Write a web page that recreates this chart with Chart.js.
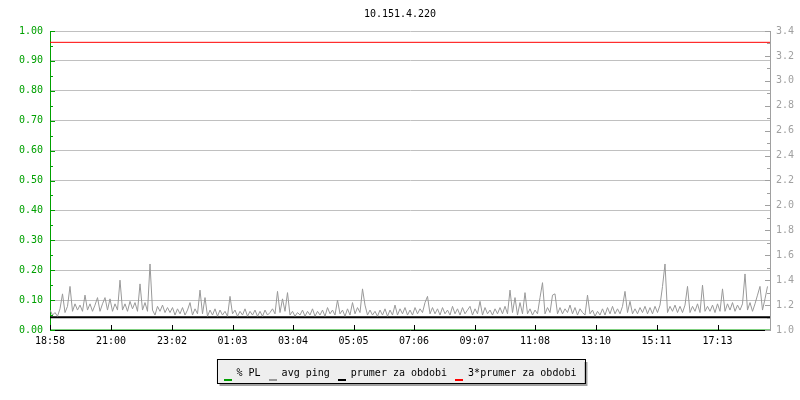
<!DOCTYPE html>
<html><head><meta charset="utf-8">
<script src="https://cdn.jsdelivr.net/npm/chart.js@4/dist/chart.umd.min.js"></script>
<style>html,body{margin:0;padding:0;background:#fff}#wrap{width:800px;height:400px}</style>
</head><body><div id="wrap"><canvas id="c" width="800" height="400"></canvas></div>
<script>
const chartTitle = '10.151.4.220';
const seriesNames = ['% PL', 'avg ping', 'prumer za obdobi', '3*prumer za obdobi'];
const tickLabels = ['18:58','21:00','23:02','01:03','03:04','05:05','07:06','09:07','11:08','13:10','15:11','17:13'];
const periodMinutes = 1440;
const sampleMinutes = 5;
// avg ping, one value per 5 minutes (right axis)
const avgPing = [
1.16,1.12,1.14,1.11,1.17,1.29,1.14,1.19,1.35,1.15,1.21,1.16,
1.20,1.15,1.28,1.16,1.21,1.15,1.20,1.26,1.15,1.21,1.26,1.16,
1.25,1.15,1.21,1.16,1.40,1.16,1.21,1.15,1.23,1.17,1.22,1.15,
1.37,1.16,1.22,1.15,1.53,1.16,1.12,1.19,1.15,1.20,1.14,1.18,
1.14,1.18,1.12,1.17,1.13,1.18,1.12,1.16,1.22,1.12,1.17,1.13,
1.32,1.13,1.26,1.11,1.16,1.12,1.17,1.11,1.16,1.12,1.15,1.11,
1.27,1.13,1.16,1.11,1.15,1.12,1.17,1.11,1.15,1.12,1.16,1.11,
1.15,1.11,1.16,1.12,1.14,1.17,1.13,1.31,1.14,1.25,1.15,1.30,
1.12,1.15,1.11,1.14,1.12,1.16,1.11,1.15,1.12,1.17,1.11,1.15,
1.12,1.16,1.11,1.18,1.13,1.16,1.12,1.24,1.13,1.16,1.11,1.17,
1.12,1.22,1.13,1.18,1.14,1.33,1.20,1.12,1.16,1.12,1.15,1.11,
1.16,1.12,1.17,1.11,1.16,1.12,1.20,1.12,1.17,1.13,1.18,1.12,
1.16,1.12,1.18,1.13,1.17,1.14,1.22,1.27,1.13,1.18,1.13,1.17,
1.12,1.18,1.13,1.16,1.12,1.19,1.13,1.17,1.12,1.18,1.13,1.16,
1.19,1.12,1.17,1.13,1.23,1.12,1.18,1.13,1.16,1.12,1.17,1.13,
1.18,1.13,1.19,1.13,1.32,1.14,1.26,1.12,1.22,1.13,1.30,1.13,
1.17,1.12,1.16,1.13,1.26,1.38,1.13,1.18,1.14,1.28,1.29,1.13,
1.18,1.13,1.17,1.14,1.20,1.13,1.18,1.12,1.17,1.14,1.12,1.28,
1.13,1.16,1.11,1.15,1.12,1.17,1.12,1.18,1.13,1.19,1.13,1.17,
1.13,1.19,1.31,1.14,1.23,1.13,1.17,1.13,1.18,1.14,1.19,1.13,
1.18,1.13,1.19,1.14,1.20,1.35,1.53,1.14,1.19,1.15,1.20,1.14,
1.19,1.14,1.20,1.35,1.14,1.19,1.15,1.21,1.14,1.36,1.15,1.19,
1.15,1.20,1.14,1.21,1.15,1.33,1.15,1.21,1.16,1.22,1.15,1.20,
1.16,1.21,1.45,1.16,1.22,1.15,1.21,1.28,1.35,1.16,1.25,1.35
];
// % PL at the start and end of the period (left axis)
const packetLoss = [0, 0];
// period averages (right axis), at start and end of the period
const prumer = [1.103, 1.103];
const prumer3 = [3.309, 3.309];
const periodEdges = [0, periodMinutes];

const toMin = s => { const [h, m] = s.split(':').map(Number); return h * 60 + m; };
const tickMinutes = tickLabels.map(l => { let d = toMin(l) - toMin(tickLabels[0]); if (d < 0) d += 1440; return d; });

const GREEN = '#00a000', GRAYTXT = '#a0a0a0';
Chart.defaults.font.family = "'DejaVu Sans Mono', 'Liberation Mono', monospace";
Chart.defaults.font.size = 10;

const legendBoxPlugin = {
  id: 'legendBox',
  beforeDraw(chart) {
    const hb = chart.legend && chart.legend.legendHitBoxes;
    if (!hb || !hb.length) return;
    const ctx = chart.ctx;
    const left = Math.min(...hb.map(h => h.left)) - 7;
    const right = Math.max(...hb.map(h => h.left + h.width)) + 8;
    const top = hb[0].top - 9, bottom = hb[0].top + hb[0].height + 5;
    ctx.save();
    ctx.fillStyle = '#a0a0a0';
    ctx.fillRect(left + 3, top + 3, right - left, bottom - top);
    ctx.fillStyle = '#eeeeee';
    ctx.fillRect(left, top, right - left, bottom - top);
    ctx.strokeStyle = '#000';
    ctx.lineWidth = 1;
    ctx.strokeRect(Math.round(left) + 0.5, Math.round(top) + 0.5, Math.round(right - left), Math.round(bottom - top));
    ctx.restore();
  },
  afterDraw(chart) {
    const hb = chart.legend && chart.legend.legendHitBoxes;
    if (!hb) return;
    const ctx = chart.ctx;
    ctx.save();
    hb.forEach((h, i) => {
      ctx.fillStyle = chart.data.datasets[i].borderColor;
      ctx.fillRect(Math.round(h.left), Math.round(h.top) + 11, 8, 2);
    });
    ctx.restore();
  }
};

const innerTicksPlugin = {
  id: 'innerTicks',
  afterDraw(chart) {
    const ctx = chart.ctx, a = chart.chartArea;
    const ys = chart.scales.y, y2 = chart.scales.y2, xs = chart.scales.x;
    ctx.save();
    ctx.lineWidth = 1;
    ctx.strokeStyle = GREEN;
    ys.ticks.forEach(t => {
      const p = Math.round(ys.getPixelForValue(t.value)) + 0.5;
      const major = Math.round(t.value * 100) % 10 === 0;
      ctx.beginPath(); ctx.moveTo(a.left, p); ctx.lineTo(a.left + (major ? 5 : 3), p); ctx.stroke();
    });
    ctx.strokeStyle = GRAYTXT;
    y2.ticks.forEach(t => {
      const p = Math.round(y2.getPixelForValue(t.value)) + 0.5;
      const major = Math.round(t.value * 10) % 2 === 0;
      ctx.beginPath(); ctx.moveTo(a.right, p); ctx.lineTo(a.right - (major ? 5 : 3), p); ctx.stroke();
    });
    ctx.strokeStyle = '#000';
    xs.ticks.forEach(t => {
      const p = Math.round(xs.getPixelForValue(t.value)) + 0.5;
      ctx.beginPath(); ctx.moveTo(p, a.bottom); ctx.lineTo(p, a.bottom - 5); ctx.stroke();
    });
    ctx.restore();
  }
};

new Chart(document.getElementById('c'), {
  type: 'line',
  data: {
    datasets: [
      { label: seriesNames[0], yAxisID: 'y', data: periodEdges.map((t, i) => ({ x: t, y: packetLoss[i] })), borderColor: GREEN, backgroundColor: GREEN, borderWidth: 1, pointRadius: 0 },
      { label: seriesNames[1], yAxisID: 'y2', data: avgPing.map((v, i) => ({ x: i * sampleMinutes, y: v })), borderColor: '#999999', backgroundColor: '#999999', borderWidth: 1, pointRadius: 0 },
      { label: seriesNames[2], yAxisID: 'y2', data: periodEdges.map((t, i) => ({ x: t, y: prumer[i] })), borderColor: '#000000', backgroundColor: '#000000', borderWidth: 2, pointRadius: 0 },
      { label: seriesNames[3], yAxisID: 'y2', data: periodEdges.map((t, i) => ({ x: t, y: prumer3[i] })), borderColor: '#ff0000', backgroundColor: '#ff0000', borderWidth: 1, pointRadius: 0 }
    ]
  },
  options: {
    responsive: false,
    animation: false,
    devicePixelRatio: 1,
    layout: { padding: { top: 0, bottom: 12, left: 0, right: 0 } },
    plugins: {
      title: { display: true, text: chartTitle, color: '#000', font: { size: 10, weight: 'normal' }, padding: { top: 8, bottom: 11 } },
      legend: {
        position: 'bottom',
        labels: {
          color: '#000', font: { size: 10 }, padding: 8, boxWidth: 8, boxHeight: 3,
          generateLabels: chart => chart.data.datasets.map((ds, i) => ({ text: ds.label, fillStyle: 'rgba(0,0,0,0)', strokeStyle: 'rgba(0,0,0,0)', lineWidth: 0, hidden: false, datasetIndex: i, fontColor: '#000' }))
        }
      },
      tooltip: { enabled: false }
    },
    scales: {
      x: {
        type: 'linear', min: 0, max: periodMinutes, z: 1,
        afterBuildTicks: s => { s.ticks = tickMinutes.map(v => ({ value: v })); },
        afterFit: s => { s.height = 30; },
        grid: { display: false, drawTicks: false },
        border: { color: '#000', width: 1 },
        ticks: { color: '#000', padding: 5, maxRotation: 0, autoSkip: false, callback: (v, i) => tickLabels[i] }
      },
      y: {
        position: 'left', min: 0, max: 1,
        afterFit: s => { s.width = 50; },
        grid: { drawTicks: false, color: c => (c.tick && Math.round(c.tick.value * 100) % 10 === 0) ? '#c0c0c0' : 'rgba(0,0,0,0)' },
        border: { color: GREEN, width: 1 },
        ticks: { stepSize: 0.05, autoSkip: false, color: GREEN, padding: 7, callback: v => { const r = Math.round(v * 100); return r % 10 === 0 ? (r / 100).toFixed(2) : ''; } }
      },
      y2: {
        position: 'right', min: 1.0, max: 3.4,
        afterFit: s => { s.width = 30; },
        grid: { display: false, drawTicks: false },
        border: { color: GRAYTXT, width: 1 },
        ticks: { stepSize: 0.1, autoSkip: false, color: GRAYTXT, padding: 6, callback: v => { const r = Math.round(v * 10); return r % 2 === 0 ? (r / 10).toFixed(1) : ''; } }
      }
    }
  },
  plugins: [legendBoxPlugin, innerTicksPlugin]
});
</script>
</body></html>
